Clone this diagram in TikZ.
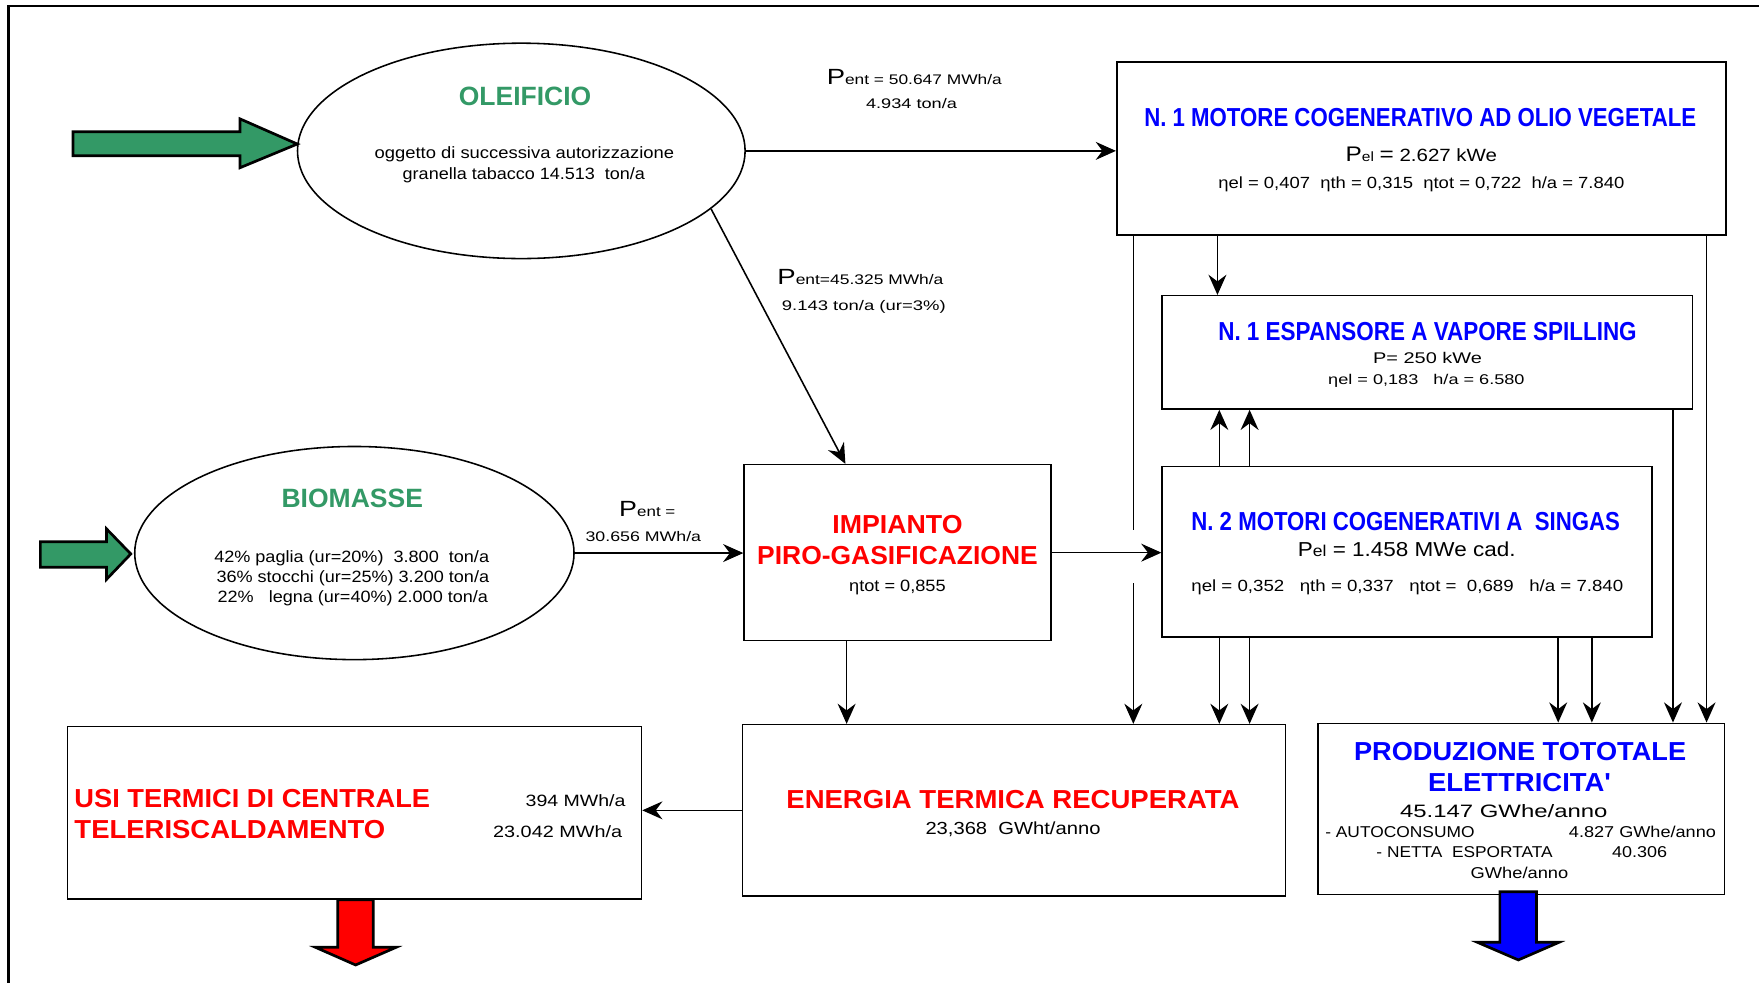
\documentclass[tikz,border=0pt]{standalone}
\usepackage{fontspec}
\setmainfont{Liberation Sans}
\usepackage{graphicx}
\usetikzlibrary{arrows.meta,shapes.geometric}
\definecolor{tgreen}{RGB}{51,153,102}
\definecolor{tblue}{RGB}{0,0,255}
\definecolor{tred}{RGB}{255,0,0}
\newcommand\fw[2]{\resizebox{#1}{\height}{#2}}
\newcommand\fsz[1]{\fontsize{#1}{#1}\selectfont}
\begin{document}
\begin{tikzpicture}[x=0.5pt,y=-0.5pt,
  box/.style={draw, rectangle, line width=0.7pt, inner sep=0pt},
  ell/.style={draw, ellipse, line width=0.7pt, inner sep=0pt},
  conn/.style={line width=0.7pt, -{Stealth[length=9pt,width=8pt,inset=3pt]}},
  plain/.style={line width=0.7pt},
  fat/.style={draw, line width=1.2pt, line join=miter},
  t/.style={inner sep=0pt, anchor=base},
  tl/.style={inner sep=0pt, anchor=base west},
  tr/.style={inner sep=0pt, anchor=base east},
  ttl/.style={font=\fsz{11.6}\bfseries},
  sm/.style={font=\fsz{7.3}}]
\useasboundingbox (0,0) rectangle (1568,876.3);
\draw[line width=1pt] (1568,5.3) -- (7.5,5.3) -- (7.5,876.3);

% shapes
\node[ell, minimum width=199.5pt, minimum height=96pt] (ole) at (464.7,134.5) {};
\node[ell, minimum width=195.8pt, minimum height=95pt] (bio) at (315.9,493) {};
\node[box, minimum width=271.55pt, minimum height=77.1pt] (motor) at (1267,132.4) {};
\node[box, minimum width=236.4pt, minimum height=50.5pt] (esp) at (1272.4,314.1) {};
\node[box, minimum width=218.3pt, minimum height=76.05pt] (motori) at (1254.3,491.75) {};
\node[box, minimum width=136.85pt, minimum height=78.45pt] (gasif) at (800.15,492.65) {};
\node[box, minimum width=242.1pt, minimum height=76.35pt] (energia) at (903.9,722.35) {};
\node[box, minimum width=181.15pt, minimum height=76.2pt] (prod) at (1356.15,721) {};
\node[box, minimum width=255.9pt, minimum height=76.9pt] (usi) at (315.9,724.7) {};

% fat arrows
\draw[fat, fill=tgreen] (65,117.4) -- (214,117.4) -- (214,106) -- (265,128.4) -- (214,149.5) -- (214,138.8) -- (65,138.8) -- cycle;
\draw[fat, fill=tgreen] (36,482.9) -- (95,482.9) -- (95,471.5) -- (116.6,493.8) -- (95,516.4) -- (95,505.7) -- (36,505.7) -- cycle;
\draw[fat, fill=tred] (301.1,802) -- (332.7,802) -- (332.7,844.4) -- (353.2,844.4) -- (317,860.2) -- (281.1,844.4) -- (301.1,844.4) -- cycle;
\draw[fat, fill=tblue] (1337,795) -- (1369.7,795) -- (1369.7,840) -- (1389.7,840) -- (1353.5,855.7) -- (1317,840) -- (1337,840) -- cycle;

% connector anchors
\coordinate (m0) at ([xshift=7.75pt]motor.south west);
\coordinate (m1) at ([xshift=45.25pt]motor.south west);
\coordinate (m2) at ([xshift=263.25pt]motor.south west);
\coordinate (e1) at ([xshift=228pt]esp.south west);
\coordinate (s1) at ([xshift=25.8pt]motori.north west);
\coordinate (s2) at ([xshift=39.3pt]motori.north west);
\coordinate (b1) at ([xshift=25.8pt]motori.south west);
\coordinate (b2) at ([xshift=39.3pt]motori.south west);
\coordinate (b3) at ([xshift=176.85pt]motori.south west);
\coordinate (b4) at ([xshift=191.85pt]motori.south west);
\coordinate (g1) at ([xshift=46.05pt]gasif.south west);
\coordinate (g0) at ([xshift=45.5pt]gasif.north west);
\path (m0) ++(0,262.5) coordinate (j1) ++(0,47) coordinate (j2);

% connectors
\draw[conn] (ole.east) -- (ole.east -| motor.west);
\draw[conn] (ole.-17.6) -- (g0);
\draw[conn] (bio.east) -- (bio.east -| gasif.west);
\draw[conn] (gasif.east) -- (gasif.east -| motori.west);
\draw[conn] (m1) -- (m1 |- esp.north);
\draw[conn] (s1) -- (s1 |- esp.south);
\draw[conn] (s2) -- (s2 |- esp.south);
\draw[conn] (b1) -- (b1 |- energia.north);
\draw[conn] (b2) -- (b2 |- energia.north);
\draw[conn] (b3) -- (b3 |- prod.north);
\draw[conn] (b4) -- (b4 |- prod.north);
\draw[plain] (m0) -- (j1);
\draw[conn] (j2) -- (j2 |- energia.north);
\draw[conn] (m2) -- (m2 |- prod.north);
\draw[conn] (e1) -- (e1 |- prod.north);
\draw[conn] (g1) -- (g1 |- energia.north);
\draw[conn] (energia.west) -- (energia.west -| usi.east);

% ellipse texts
\node[t, font=\fsz{11.8}\bfseries, text=tgreen] (tole) at (468,93.7) {\fw{59pt}{OLEIFICIO}};
\node[t, sm] (tole1) at (467.5,141.7) {\fw{133.5pt}{oggetto di successiva autorizzazione}};
\node[t, sm] (tole2) at (467,160.2) {\fw{108pt}{granella tabacco 14.513\ \ ton/a}};
\node[t, font=\fsz{11.8}\bfseries, text=tgreen] (tbio) at (314,452.6) {\fw{63pt}{BIOMASSE}};
\node[t, sm] (tbio1) at (313.5,501.7) {\fw{122.5pt}{42\% paglia\ (ur=20\%)\ \ 3.800\ \ ton/a}};
\node[t, sm] (tbio2) at (314.5,519.2) {\fw{121.5pt}{36\% stocchi (ur=25\%) 3.200 ton/a}};
\node[t, sm] (tbio3) at (314.5,537.1) {\fw{120.5pt}{22\%\ \ \ legna (ur=40\%) 2.000 ton/a}};

% flow labels
\node[t, font=\fsz{6.2}] (p1) at (815,75.7) {\fw{78pt}{{\fsz{9.8}P}ent = 50.647 MWh/a}};
\node[t, font=\fsz{6.2}] (p1b) at (812.5,97.1) {\fw{40.5pt}{4.934 ton/a}};
\node[t, font=\fsz{6.2}] (p2) at (767,254) {\fw{74pt}{{\fsz{9.8}P}ent=45.325 MWh/a}};
\node[t, font=\fsz{6.2}] (p2b) at (770,277.2) {\fw{73pt}{9.143 ton/a (ur=3\%)}};
\node[t, font=\fsz{6.2}] (p3) at (577,460) {\fw{25pt}{{\fsz{9.8}P}ent =}};
\node[t, font=\fsz{6.2}] (p3b) at (573.5,482.8) {\fw{51.5pt}{30.656 MWh/a}};

% motor
\node[t, ttl, text=tblue] (tmot) at (1266,112.9) {\fw{246pt}{N. 1 MOTORE COGENERATIVO AD OLIO VEGETALE}};
\node[t, font=\fsz{7.9}] (tmot1) at (1267,143.7) {\fw{67.5pt}{{\fsz{9.4}P}{\fsz{6}el} {\fsz{9.4}=} 2.627 kWe}};
\node[t, font=\fsz{7.2}] (tmot2) at (1267,168) {\fw{181pt}{ηel = 0,407\ \ ηth = 0,315\ \ ηtot\ = 0,722\ \ h/a = 7.840}};

% espansore
\node[t, ttl, text=tblue] (tesp) at (1272.5,303.3) {\fw{186.5pt}{N. 1 ESPANSORE A VAPORE SPILLING}};
\node[t, font=\fsz{6.9}] (tesp1) at (1272.5,324.3) {\fw{48.5pt}{P= 250 kWe}};
\node[t, font=\fsz{6.3}] (tesp2) at (1271.5,342.5) {\fw{87.5pt}{ηel = 0,183\ \ \ h/a = 6.580}};

% motori
\node[t, ttl, text=tblue] (tmoti) at (1253,473.3) {\fw{191pt}{N. 2 MOTORI COGENERATIVI A\ \ SINGAS}};
\node[t, font=\fsz{9}] (tmoti1) at (1254,496.4) {\fw{97pt}{P{\fsz{7}el} = 1.458 MWe cad.}};
\node[t, font=\fsz{7.2}] (tmoti2) at (1254.5,527.2) {\fw{192.5pt}{ηel = 0,352\ \ \ ηth = 0,337\ \ \ ηtot =\ \ 0,689\ \ \ h/a = 7.840}};

% gasificazione
\node[t, ttl, text=tred] (tgas1) at (800,475.8) {\fw{58pt}{IMPIANTO}};
\node[t, ttl, text=tred] (tgas2) at (800,503.3) {\fw{125pt}{PIRO-GASIFICAZIONE}};
\node[t, sm] (tgas3) at (800,527.2) {\fw{43pt}{ηtot = 0,855}};

% energia
\node[t, ttl, text=tred] (ten) at (903,720.3) {\fw{202pt}{ENERGIA TERMICA RECUPERATA}};
\node[t, font=\fsz{7.8}] (ten1) at (903,744) {\fw{78pt}{23,368\ \ GWht/anno}};

% usi
\node[tl, ttl, text=tred] (tusi1) at (66,719.9) {\fw{158.5pt}{USI TERMICI DI CENTRALE}};
\node[tl, ttl, text=tred] (tusi2) at (66,747.6) {\fw{138.5pt}{TELERISCALDAMENTO}};
\node[tr, sm] (tusi3) at (558,719) {\fw{44.5pt}{394 MWh/a}};
\node[tr, sm] (tusi4) at (555,746.5) {\fw{57.5pt}{23.042 MWh/a}};

% produzione
\node[t, ttl, text=tblue] (tpr1) at (1355,678.3) {\fw{148pt}{PRODUZIONE TOTOTALE}};
\node[t, ttl, text=tblue] (tpr2) at (1354.5,705.7) {\fw{81.5pt}{ELETTRICITA\textquotesingle}};
\node[t, font=\fsz{8}] (tpr3) at (1340.5,728.3) {\fw{92.5pt}{45.147 GWhe/anno}};
\node[tl, font=\fsz{7}] (tpr4) at (1181,747) {\fw{66.5pt}{- AUTOCONSUMO}};
\node[tr, font=\fsz{7}] (tpr5) at (1530,747) {\fw{65.5pt}{4.827 GWhe/anno}};
\node[t, font=\fsz{7}] (tpr6) at (1305.5,764.8) {\fw{78.5pt}{- NETTA\ \ ESPORTATA}};
\node[t, font=\fsz{7}] (tpr7) at (1461.5,764.8) {\fw{24.5pt}{40.306}};
\node[t, font=\fsz{7}] (tpr8) at (1354.5,783.3) {\fw{43.5pt}{GWhe/anno}};
\end{tikzpicture}
\end{document}
